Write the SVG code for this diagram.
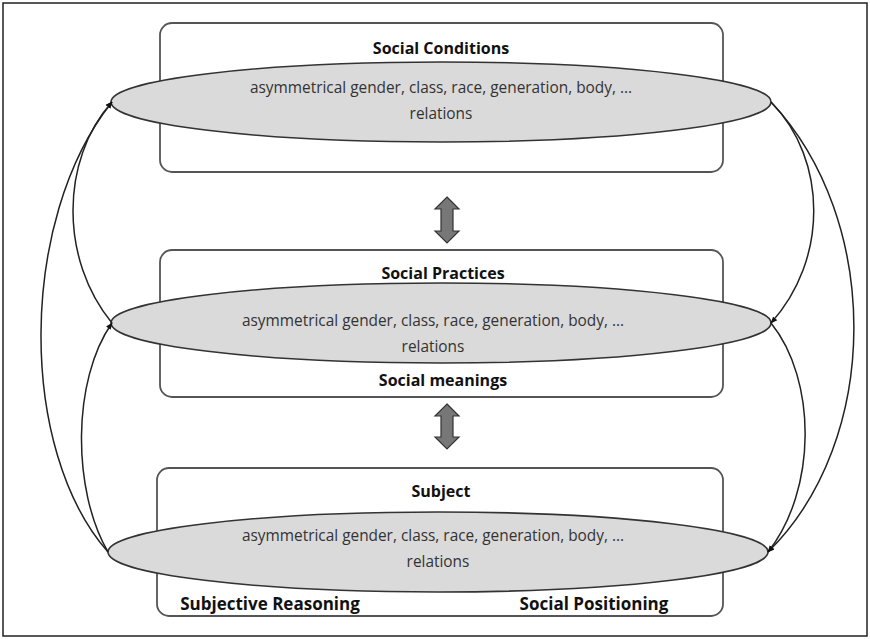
<svg xmlns="http://www.w3.org/2000/svg" width="870" height="639" viewBox="0 0 870 639">
<style>
.frame{fill:#fff;stroke:#222;stroke-width:1.5}
.box{fill:#fff;stroke:#555;stroke-width:1.8}
.ell{fill:#dadada;stroke:#333;stroke-width:1.6}
.t{font-family:"Open Sans","Liberation Sans",sans-serif;font-size:15.4px;fill:#333;text-anchor:middle}
.b{font-family:"Open Sans","Liberation Sans",sans-serif;font-size:16px;font-weight:bold;fill:#111;text-anchor:middle}
.bl{font-size:17px}
.c{fill:none;stroke:#222;stroke-width:1.5}
.dbl{fill:#777;stroke:#333;stroke-width:1.2}
</style>
<defs>
<marker id="ah" viewBox="0 0 10 10" refX="9" refY="5" markerWidth="7" markerHeight="7" orient="auto" markerUnits="userSpaceOnUse">
<path d="M0,1 L10,5 L0,9 z" fill="#111"/>
</marker>
</defs>
<rect class="frame" x="3" y="3" width="864" height="633"/>

<g id="node-conditions">
<rect class="box" x="160" y="23" width="563" height="149" rx="12"/>
<text class="b" x="441" y="54">Social Conditions</text>
<ellipse class="ell" cx="441" cy="102" rx="330" ry="40"/>
<text class="t" x="441" y="93">asymmetrical gender, class, race, generation, body, ...</text>
<text class="t" x="441" y="119">relations</text>
</g>

<g id="node-practices">
<rect class="box" x="160" y="250" width="563" height="147" rx="12"/>
<text class="b" x="443" y="279">Social Practices</text>
<ellipse class="ell" cx="441" cy="323" rx="330" ry="40"/>
<text class="t" x="433" y="326">asymmetrical gender, class, race, generation, body, ...</text>
<text class="t" x="433" y="352">relations</text>
<text class="b" x="443" y="386">Social meanings</text>
</g>

<g id="node-subject">
<rect class="box" x="157" y="468" width="566" height="148" rx="12"/>
<text class="b" x="441" y="497">Subject</text>
<ellipse class="ell" cx="438" cy="552" rx="330" ry="40"/>
<text class="t" x="433" y="541">asymmetrical gender, class, race, generation, body, ...</text>
<text class="t" x="438" y="567">relations</text>
<text class="b bl" x="270" y="610">Subjective Reasoning</text>
<text class="b bl" x="594" y="610">Social Positioning</text>
</g>

<g id="connectors">
<path class="dbl" d="M447,197 L459,209 L453,209 L453,231 L459,231 L447,243 L435,231 L441,231 L441,209 L435,209 Z"/>
<path class="dbl" d="M447,404 L459,416 L453,416 L453,437 L459,437 L447,449 L435,437 L441,437 L441,416 L435,416 Z"/>

<path class="c" marker-end="url(#ah)" d="M108,552 C18,450 18,220 112,102"/>
<path class="c" marker-end="url(#ah)" d="M112,323 C60,260 60,160 112,102"/>
<path class="c" marker-end="url(#ah)" d="M108,552 C72,490 72,380 112,323"/>
<path class="c" marker-end="url(#ah)" d="M771,102 C828,160 828,260 771,323"/>
<path class="c" marker-end="url(#ah)" d="M771,102 C882,220 882,440 768,552"/>
<path class="c" marker-end="url(#ah)" d="M771,323 C817,380 817,490 768,552"/>
</g>
</svg>
